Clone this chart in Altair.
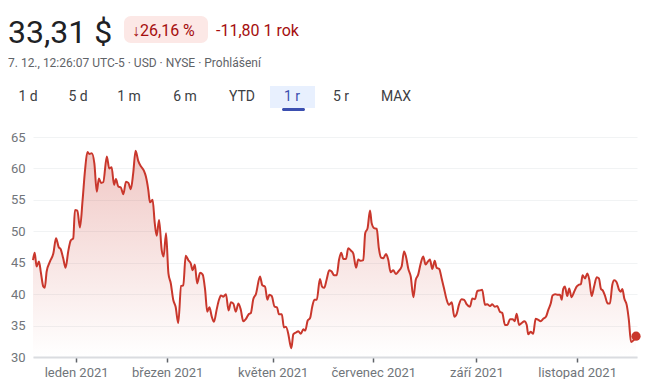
import altair as alt
import pandas as pd

# trading-day index (0 = 7. 12. 2020) and closing price in USD
days = [0, 0.7, 1.5, 2.5, 3.3, 4.3, 4.9, 5.7, 7.1, 8.5, 9.6, 10.7, 11.6, 12.6, 13.6, 14.7, 15.7, 16.8,
        17.5, 18.5, 19.6, 20.7, 21.7, 22.7, 23.5, 24.5, 25.6, 26.6, 27.5, 28.4, 29.3, 30.8, 31.8, 32.8,
        33.8, 34.6, 35.6, 36.6, 37.7, 38.8, 39.8, 40.8, 41.8, 42.8, 43.9, 45.1, 46.3, 47.1, 48.1, 48.8,
        49.9, 50.8, 51.6, 52.6, 53.7, 54.5, 55.5, 56.5, 57.5, 58.5, 59.5, 60.6, 61.8, 62.7, 63.7, 64.8,
        65.8, 66.6, 67.5, 68.5, 69.7, 70.8, 71.8, 72.7, 73.6, 74.6, 75.5, 76.6, 77.6, 78.4, 79.4, 80.5,
        81.6, 82.6, 83.6, 84.6, 85.7, 86.7, 87.7, 88.9, 90.0, 90.9, 91.9, 93.0, 94.7, 95.7, 96.8, 97.8,
        98.6, 99.6, 100.8, 101.8, 102.6, 103.8, 104.7, 105.5, 106.5, 107.2, 107.8, 108.6, 109.7, 110.7,
        111.7, 112.8, 113.6, 114.6, 115.6, 116.5, 117.4, 118.4, 119.7, 120.6, 121.5, 122.5, 123.6, 124.6,
        125.6, 126.7, 127.7, 128.6, 129.5, 130.6, 131.5, 132.7, 133.6, 134.8, 135.7, 136.7, 137.8, 138.6,
        139.6, 140.6, 141.3, 142.3, 143.4, 144.3, 145.2, 146.1, 147.3, 148.2, 149.2, 150.3, 151.4, 152.4,
        153.8, 154.8, 155.6, 156.6, 157.6, 158.7, 159.7, 160.7, 161.7, 162.8, 163.8, 164.8, 165.6, 166.6,
        167.6, 168.4, 169.5, 170.5, 171.5, 172.6, 173.5, 174.7, 175.8, 176.8, 177.7, 178.8, 179.9, 180.9,
        182.3, 183.3, 184.4, 185.4, 186.5, 187.4, 188.6, 189.5, 190.7, 191.6, 192.7, 193.7, 194.8, 195.8,
        196.9, 197.9, 199.0, 200.1, 201.0, 201.8, 202.8, 203.9, 205.0, 206.0, 206.6, 207.6, 208.7, 209.7,
        210.8, 211.8, 212.9, 214.0, 215.0, 216.0, 216.8, 217.8, 218.7, 219.9, 220.6, 221.2, 221.9, 222.9,
        223.7, 224.7, 225.7, 226.8, 227.8, 228.6, 229.3, 230.3, 231.3, 232.1, 233.1, 234.1, 235.2, 236.1,
        237.0, 237.7, 238.6, 239.8, 240.7, 241.7, 242.5, 243.5, 244.5, 245.2, 245.9, 246.7, 247.7, 248.6,
        249.5, 250.4, 251.6]
prices = [45.4, 46.6, 44.4, 45.2, 43.4, 41.2, 41.0, 43.6, 45.2, 46.5, 48.9, 47.5, 47.1, 45.7, 44.2, 46.8, 48.5, 48.9,
          53.4, 53.3, 50.6, 55.0, 59.7, 62.6, 62.3, 62.4, 60.8, 56.3, 58.4, 57.7, 57.8, 61.9, 60.0, 60.2,
          57.4, 58.3, 57.1, 57.0, 55.9, 57.9, 57.7, 56.7, 59.2, 62.8, 61.2, 60.3, 59.6, 58.7, 56.6, 54.6,
          55.0, 51.3, 49.3, 51.8, 47.0, 46.0, 49.7, 43.3, 41.7, 39.1, 38.0, 35.4, 41.3, 41.4, 46.1, 45.4,
          44.9, 43.8, 44.7, 41.7, 43.4, 43.1, 40.7, 37.2, 37.9, 36.4, 35.6, 37.5, 39.1, 39.8, 39.6, 40.0,
          37.4, 38.7, 38.5, 37.2, 38.5, 37.5, 35.7, 36.1, 36.8, 37.0, 39.2, 40.0, 42.8, 41.4, 41.2, 39.1,
          39.9, 39.7, 38.0, 37.9, 36.8, 36.8, 34.7, 34.8, 33.7, 32.2, 31.4, 33.6, 33.9, 34.1,
          33.7, 34.4, 34.2, 35.8, 36.2, 38.0, 39.1, 39.1, 42.4, 41.2, 41.0, 42.3, 43.8, 43.6,
          43.0, 43.0, 45.5, 46.6, 45.6, 45.6, 47.3, 46.9, 46.5, 44.2, 45.5, 45.3, 45.4, 49.7,
          50.5, 53.3, 51.3, 50.5, 50.4, 47.3, 45.8, 45.7, 46.4, 45.5, 43.5, 43.8, 43.2, 43.6,
          44.4, 46.8, 46.0, 44.0, 42.8, 39.5, 42.3, 43.1, 44.8, 46.0, 44.7, 45.2, 45.5, 44.0,
          45.3, 44.2, 44.0, 42.5, 40.9, 39.1, 38.3, 38.7, 36.4, 36.9, 38.3, 39.2, 39.1, 38.4,
          38.0, 39.3, 39.2, 40.5, 40.6, 40.7, 38.3, 38.4, 38.1, 38.4, 38.0, 38.1, 37.2, 37.0,
          35.1, 35.1, 36.0, 36.0, 35.7, 36.9, 35.1, 35.4, 35.7, 35.1, 33.6, 34.0, 33.7, 36.1,
          35.9, 35.7, 36.1, 36.4, 37.5, 38.5, 39.8, 40.0, 39.9, 39.9, 39.1, 40.8, 41.2, 39.7,
          40.9, 39.5, 40.3, 41.2, 41.5, 41.6, 43.0, 42.5, 43.3, 42.3, 39.7, 41.2, 42.7, 42.5,
          40.8, 40.6, 39.8, 38.5, 38.5, 41.5, 42.2, 41.9, 40.7, 40.4, 40.8, 39.3, 38.3, 35.9,
          32.4, 32.6, 33.31]

tick_days = [18, 56, 100, 142, 185, 227]
tick_labels = ["leden 2021", "březen 2021", "květen 2021", "červenec 2021", "září 2021", "listopad 2021"]
y_ticks = [30, 35, 40, 45, 50, 55, 60, 65]

price_text = "33,31 $"
change_pct = "↓26,16 %"
change_abs = "-11,80 1 rok"
subtitle = "7. 12., 12:26:07 UTC-5 · USD · NYSE · Prohlášení"
tabs = ["1 d", "5 d", "1 m", "6 m", "YTD", "1 r", "5 r", "MAX"]
tab_x = [-5, 45, 96, 152, 209, 259, 308, 363]
active_tab = "1 r"

FONT = "Roboto"
RED = "#c9372c"

df = pd.DataFrame({"day": days, "price": prices})
last = df.tail(1)

label_expr = " : ".join(f"datum.value == {d} ? '{l}'" for d, l in zip(tick_days, tick_labels)) + " : ''"

x_enc = alt.X("day:Q", scale=alt.Scale(domain=[0, 252], nice=False, zero=False),
              axis=alt.Axis(values=tick_days, labelExpr=label_expr, title=None, grid=False,
                            domainColor="#dadce0", domainWidth=2, tickColor="#5f6368",
                            tickSize=5, tickWidth=1.5, labelFontSize=13, labelColor="#70757a",
                            labelPadding=4, labelFont=FONT, labelOverlap=False))
y_enc = alt.Y("price:Q", scale=alt.Scale(domain=[30, 65], nice=False, zero=False),
              axis=alt.Axis(values=y_ticks, title=None, domain=False, ticks=False,
                            gridColor="#f1f3f4", gridWidth=1, labelPadding=8, labelFontSize=13,
                            labelColor="#70757a", labelFont=FONT, labelOverlap=False))

base = alt.Chart(df)

area = base.mark_area(
    color=alt.Gradient(gradient="linear",
                       stops=[alt.GradientStop(color="rgba(201,55,44,0)", offset=0),
                              alt.GradientStop(color="rgba(201,55,44,0.28)", offset=1)],
                       x1=1, x2=1, y1=1, y2=0)
).encode(x=x_enc, y=y_enc, y2=alt.datum(30))

line = base.mark_line(color=RED, strokeWidth=2, interpolate="monotone").encode(x=x_enc, y=y_enc)

dot = alt.Chart(last).mark_point(filled=True, size=85, color=RED, opacity=1).encode(x=x_enc, y=y_enc)

one = alt.Chart(pd.DataFrame({"a": [0]}))

t_price = one.mark_text(text=price_text, align="left", baseline="alphabetic", fontSize=32,
                        color="#202124", font=FONT).encode(x=alt.value(-25), y=alt.value(-94))
badge = one.mark_rect(color="#fce8e6", cornerRadius=7).encode(
    x=alt.value(91), x2=alt.value(175), y=alt.value(-121), y2=alt.value(-94))
t_pct = one.mark_text(text=change_pct, align="left", baseline="middle", fontSize=16,
                      color="#a50e0e", font=FONT).encode(x=alt.value(99), y=alt.value(-106))
t_abs = one.mark_text(text=change_abs, align="left", baseline="middle", fontSize=16,
                      color="#a50e0e", font=FONT).encode(x=alt.value(183), y=alt.value(-106))
t_sub = one.mark_text(text=subtitle, align="left", baseline="middle", fontSize=12,
                      color="#5f6368", font=FONT).encode(x=alt.value(-25), y=alt.value(-74))

tab_hl = one.mark_rect(color="#e8f0fe").encode(
    x=alt.value(237), x2=alt.value(282), y=alt.value(-51), y2=alt.value(-29))
tab_ul = one.mark_rect(color="#3b4fb0", cornerRadius=1.5).encode(
    x=alt.value(249), x2=alt.value(272), y=alt.value(-29), y2=alt.value(-26))

tab_df = pd.DataFrame({"tab": tabs, "tx": tab_x})
tab_df["active"] = tab_df["tab"] == active_tab
tab_text = alt.Chart(tab_df).mark_text(align="center", baseline="middle", fontSize=14, font=FONT,
                                       fontWeight="normal").encode(
    x=alt.X("tx:Q", scale=None),
    y=alt.value(-40),
    text="tab:N",
    color=alt.condition("datum.active", alt.value("#3b4fb0"), alt.value("#3c4043")))

chart = alt.layer(area, line, dot, badge, t_price, t_pct, t_abs, t_sub, tab_hl, tab_ul, tab_text).properties(
    width=604, height=220,
    padding={"left": 25, "top": 129, "right": 5, "bottom": 22},
    autosize=alt.AutoSizeParams(type="none"),
    background="white",
).configure_view(stroke=None)

chart.save("out.html", embed_options={"renderer": "svg", "actions": False})
